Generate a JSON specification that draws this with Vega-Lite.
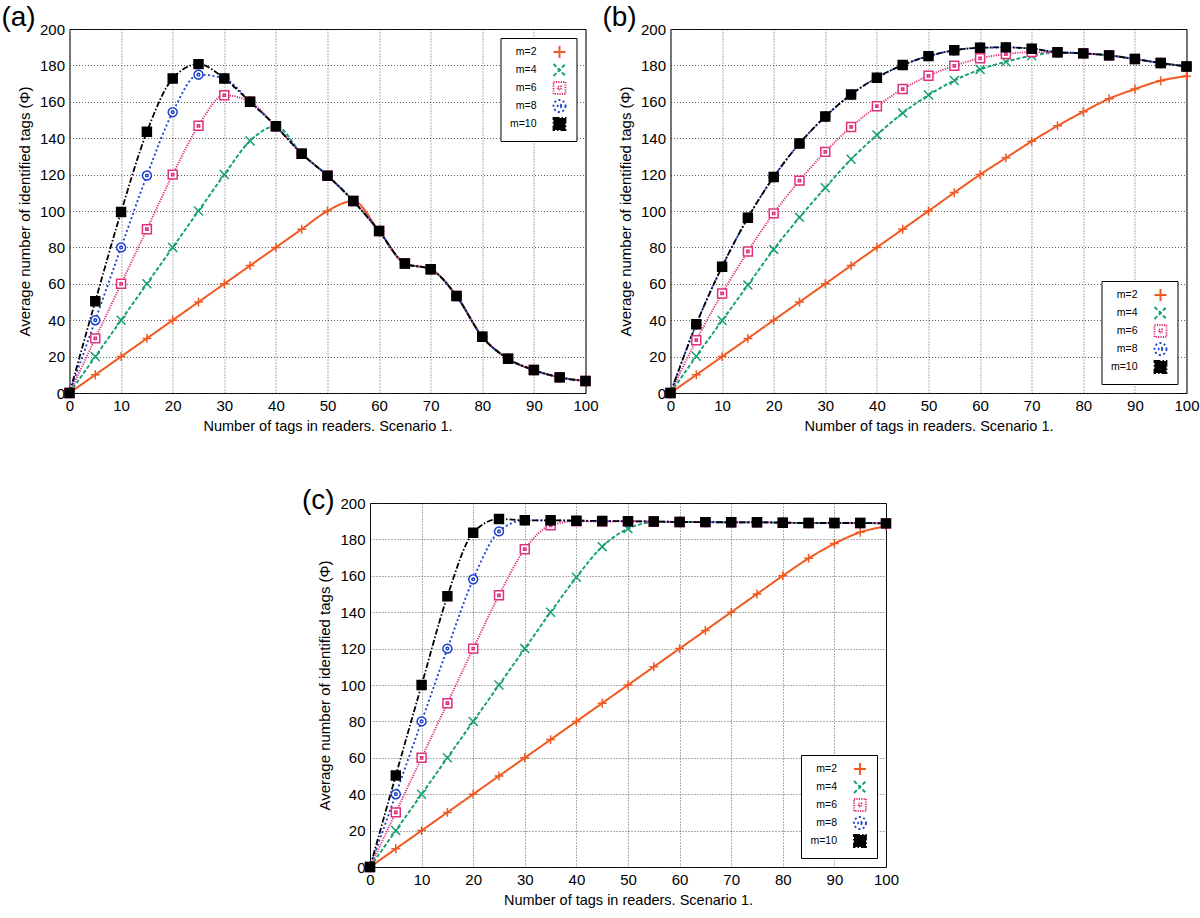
{
"$schema": "https://vega.github.io/schema/vega-lite/v6.json",
"padding": {"left": 0, "top": 3, "right": 0, "bottom": 2},
"center": true,
"spacing": 53,
"config": {
 "font": "Liberation Sans",
 "view": {"stroke": "#000", "strokeWidth": 1},
 "axis": {"grid": true, "gridColor": "#333", "gridDash": [1, 2], "gridOpacity": 1, "gridWidth": 0.8, "domain": false, "ticks": false, "labelFlush": false, "labelFontSize": 15, "labelColor": "#000", "labelPadding": 5, "titleFontSize": 14.5, "titleFontWeight": "normal", "titleColor": "#000"},
 "axisX": {"titlePadding": 6},
 "axisY": {"titlePadding": 7, "titleFontSize": 15},
 "legend": {"title": null, "offset": 9, "fillColor": "#fff", "strokeColor": "#000", "padding": 7, "labelFontSize": 10.5, "labelColor": "#000", "rowPadding": -2, "symbolSize": 144, "symbolStrokeWidth": 1.5, "labelLimit": 100},
 "title": {"fontSize": 28, "fontWeight": "normal", "anchor": "start", "frame": "bounds", "dx": -16, "color": "#000"}
},
"resolve": {"scale": {"color": "independent", "strokeDash": "independent", "strokeWidth": "independent", "shape": "independent", "fill": "independent"}, "legend": {"color": "independent", "strokeDash": "independent", "shape": "independent", "fill": "independent"}},
"datasets": {
 "a": [
  {"m":"m=2","x":0,"y":0},{"m":"m=2","x":5,"y":10},{"m":"m=2","x":10,"y":20},{"m":"m=2","x":15,"y":30},{"m":"m=2","x":20,"y":40},{"m":"m=2","x":25,"y":50},{"m":"m=2","x":30,"y":60},{"m":"m=2","x":35,"y":70},{"m":"m=2","x":40,"y":80},{"m":"m=2","x":45,"y":90},{"m":"m=2","x":50,"y":100},{"m":"m=2","x":55,"y":105.5},{"m":"m=2","x":60,"y":89},{"m":"m=2","x":65,"y":71.2},{"m":"m=2","x":70,"y":68},{"m":"m=2","x":75,"y":53.3},{"m":"m=2","x":80,"y":30.9},{"m":"m=2","x":85,"y":18.8},{"m":"m=2","x":90,"y":12.6},{"m":"m=2","x":95,"y":8.6},{"m":"m=2","x":100,"y":6.6},
  {"m":"m=4","x":0,"y":0},{"m":"m=4","x":5,"y":20},{"m":"m=4","x":10,"y":40},{"m":"m=4","x":15,"y":60},{"m":"m=4","x":20,"y":80},{"m":"m=4","x":25,"y":100},{"m":"m=4","x":30,"y":120},{"m":"m=4","x":35,"y":138.5},{"m":"m=4","x":40,"y":146.6},{"m":"m=4","x":45,"y":131.5},{"m":"m=4","x":50,"y":119.4},{"m":"m=4","x":55,"y":105.5},{"m":"m=4","x":60,"y":89},{"m":"m=4","x":65,"y":71.2},{"m":"m=4","x":70,"y":68},{"m":"m=4","x":75,"y":53.3},{"m":"m=4","x":80,"y":30.9},{"m":"m=4","x":85,"y":18.8},{"m":"m=4","x":90,"y":12.6},{"m":"m=4","x":95,"y":8.6},{"m":"m=4","x":100,"y":6.6},
  {"m":"m=6","x":0,"y":0},{"m":"m=6","x":5,"y":30},{"m":"m=6","x":10,"y":60},{"m":"m=6","x":15,"y":90},{"m":"m=6","x":20,"y":120},{"m":"m=6","x":25,"y":146.8},{"m":"m=6","x":30,"y":163.6},{"m":"m=6","x":35,"y":160},{"m":"m=6","x":40,"y":146.6},{"m":"m=6","x":45,"y":131.5},{"m":"m=6","x":50,"y":119.4},{"m":"m=6","x":55,"y":105.5},{"m":"m=6","x":60,"y":89},{"m":"m=6","x":65,"y":71.2},{"m":"m=6","x":70,"y":68},{"m":"m=6","x":75,"y":53.3},{"m":"m=6","x":80,"y":30.9},{"m":"m=6","x":85,"y":18.8},{"m":"m=6","x":90,"y":12.6},{"m":"m=6","x":95,"y":8.6},{"m":"m=6","x":100,"y":6.6},
  {"m":"m=8","x":0,"y":0},{"m":"m=8","x":5,"y":40},{"m":"m=8","x":10,"y":80},{"m":"m=8","x":15,"y":119.5},{"m":"m=8","x":20,"y":154.3},{"m":"m=8","x":25,"y":174.9},{"m":"m=8","x":30,"y":172.8},{"m":"m=8","x":35,"y":160},{"m":"m=8","x":40,"y":146.6},{"m":"m=8","x":45,"y":131.5},{"m":"m=8","x":50,"y":119.4},{"m":"m=8","x":55,"y":105.5},{"m":"m=8","x":60,"y":89},{"m":"m=8","x":65,"y":71.2},{"m":"m=8","x":70,"y":68},{"m":"m=8","x":75,"y":53.3},{"m":"m=8","x":80,"y":30.9},{"m":"m=8","x":85,"y":18.8},{"m":"m=8","x":90,"y":12.6},{"m":"m=8","x":95,"y":8.6},{"m":"m=8","x":100,"y":6.6},
  {"m":"m=10","x":0,"y":0},{"m":"m=10","x":5,"y":50.4},{"m":"m=10","x":10,"y":99.5},{"m":"m=10","x":15,"y":143.5},{"m":"m=10","x":20,"y":172.8},{"m":"m=10","x":25,"y":180.7},{"m":"m=10","x":30,"y":172.8},{"m":"m=10","x":35,"y":160},{"m":"m=10","x":40,"y":146.6},{"m":"m=10","x":45,"y":131.5},{"m":"m=10","x":50,"y":119.4},{"m":"m=10","x":55,"y":105.5},{"m":"m=10","x":60,"y":89},{"m":"m=10","x":65,"y":71.2},{"m":"m=10","x":70,"y":68},{"m":"m=10","x":75,"y":53.3},{"m":"m=10","x":80,"y":30.9},{"m":"m=10","x":85,"y":18.8},{"m":"m=10","x":90,"y":12.6},{"m":"m=10","x":95,"y":8.6},{"m":"m=10","x":100,"y":6.6}
 ],
 "b": [
  {"m":"m=2","x":0,"y":0},{"m":"m=2","x":5,"y":10},{"m":"m=2","x":10,"y":20},{"m":"m=2","x":15,"y":30},{"m":"m=2","x":20,"y":40},{"m":"m=2","x":25,"y":50},{"m":"m=2","x":30,"y":60},{"m":"m=2","x":35,"y":70},{"m":"m=2","x":40,"y":80},{"m":"m=2","x":45,"y":90},{"m":"m=2","x":50,"y":100},{"m":"m=2","x":55,"y":110.1},{"m":"m=2","x":60,"y":120},{"m":"m=2","x":65,"y":129.2},{"m":"m=2","x":70,"y":138.3},{"m":"m=2","x":75,"y":146.8},{"m":"m=2","x":80,"y":154.5},{"m":"m=2","x":85,"y":161.7},{"m":"m=2","x":90,"y":167},{"m":"m=2","x":95,"y":171.6},{"m":"m=2","x":100,"y":174.1},
  {"m":"m=4","x":0,"y":0},{"m":"m=4","x":5,"y":20.2},{"m":"m=4","x":10,"y":39.8},{"m":"m=4","x":15,"y":59.3},{"m":"m=4","x":20,"y":78.9},{"m":"m=4","x":25,"y":96.5},{"m":"m=4","x":30,"y":112.8},{"m":"m=4","x":35,"y":128.4},{"m":"m=4","x":40,"y":141.8},{"m":"m=4","x":45,"y":153.8},{"m":"m=4","x":50,"y":163.7},{"m":"m=4","x":55,"y":171.7},{"m":"m=4","x":60,"y":177.8},{"m":"m=4","x":65,"y":182},{"m":"m=4","x":70,"y":185.3},{"m":"m=4","x":75,"y":187.2},{"m":"m=4","x":80,"y":186.6},{"m":"m=4","x":85,"y":185.5},{"m":"m=4","x":90,"y":183.5},{"m":"m=4","x":95,"y":181.3},{"m":"m=4","x":100,"y":179.4},
  {"m":"m=6","x":0,"y":0},{"m":"m=6","x":5,"y":29},{"m":"m=6","x":10,"y":54.7},{"m":"m=6","x":15,"y":77.8},{"m":"m=6","x":20,"y":98.7},{"m":"m=6","x":25,"y":116.7},{"m":"m=6","x":30,"y":132.5},{"m":"m=6","x":35,"y":146.2},{"m":"m=6","x":40,"y":157.6},{"m":"m=6","x":45,"y":167},{"m":"m=6","x":50,"y":174.3},{"m":"m=6","x":55,"y":179.8},{"m":"m=6","x":60,"y":183.9},{"m":"m=6","x":65,"y":186.2},{"m":"m=6","x":70,"y":187.3},{"m":"m=6","x":75,"y":187.2},{"m":"m=6","x":80,"y":186.6},{"m":"m=6","x":85,"y":185.5},{"m":"m=6","x":90,"y":183.5},{"m":"m=6","x":95,"y":181.3},{"m":"m=6","x":100,"y":179.4},
  {"m":"m=8","x":0,"y":0},{"m":"m=8","x":5,"y":37.8},{"m":"m=8","x":10,"y":69.4},{"m":"m=8","x":15,"y":96.3},{"m":"m=8","x":20,"y":118.7},{"m":"m=8","x":25,"y":137.1},{"m":"m=8","x":30,"y":151.9},{"m":"m=8","x":35,"y":164},{"m":"m=8","x":40,"y":173.2},{"m":"m=8","x":45,"y":180.2},{"m":"m=8","x":50,"y":185.1},{"m":"m=8","x":55,"y":188.3},{"m":"m=8","x":60,"y":189.7},{"m":"m=8","x":65,"y":189.9},{"m":"m=8","x":70,"y":189.2},{"m":"m=8","x":75,"y":187.2},{"m":"m=8","x":80,"y":186.6},{"m":"m=8","x":85,"y":185.5},{"m":"m=8","x":90,"y":183.5},{"m":"m=8","x":95,"y":181.3},{"m":"m=8","x":100,"y":179.4},
  {"m":"m=10","x":0,"y":0},{"m":"m=10","x":5,"y":37.8},{"m":"m=10","x":10,"y":69.4},{"m":"m=10","x":15,"y":96.3},{"m":"m=10","x":20,"y":118.7},{"m":"m=10","x":25,"y":137.1},{"m":"m=10","x":30,"y":151.9},{"m":"m=10","x":35,"y":164},{"m":"m=10","x":40,"y":173.2},{"m":"m=10","x":45,"y":180.2},{"m":"m=10","x":50,"y":185.1},{"m":"m=10","x":55,"y":188.3},{"m":"m=10","x":60,"y":189.7},{"m":"m=10","x":65,"y":189.9},{"m":"m=10","x":70,"y":189.2},{"m":"m=10","x":75,"y":187.2},{"m":"m=10","x":80,"y":186.6},{"m":"m=10","x":85,"y":185.5},{"m":"m=10","x":90,"y":183.5},{"m":"m=10","x":95,"y":181.3},{"m":"m=10","x":100,"y":179.4}
 ],
 "c": [
  {"m":"m=2","x":0,"y":0},{"m":"m=2","x":5,"y":10},{"m":"m=2","x":10,"y":20},{"m":"m=2","x":15,"y":30},{"m":"m=2","x":20,"y":40},{"m":"m=2","x":25,"y":50},{"m":"m=2","x":30,"y":60},{"m":"m=2","x":35,"y":70},{"m":"m=2","x":40,"y":80},{"m":"m=2","x":45,"y":90},{"m":"m=2","x":50,"y":100},{"m":"m=2","x":55,"y":110},{"m":"m=2","x":60,"y":120},{"m":"m=2","x":65,"y":130},{"m":"m=2","x":70,"y":140},{"m":"m=2","x":75,"y":150},{"m":"m=2","x":80,"y":160},{"m":"m=2","x":85,"y":169.6},{"m":"m=2","x":90,"y":177.7},{"m":"m=2","x":95,"y":183.9},{"m":"m=2","x":100,"y":187.2},
  {"m":"m=4","x":0,"y":0},{"m":"m=4","x":5,"y":20},{"m":"m=4","x":10,"y":40},{"m":"m=4","x":15,"y":60},{"m":"m=4","x":20,"y":80},{"m":"m=4","x":25,"y":100},{"m":"m=4","x":30,"y":120},{"m":"m=4","x":35,"y":140},{"m":"m=4","x":40,"y":159.2},{"m":"m=4","x":45,"y":176},{"m":"m=4","x":50,"y":185.9},{"m":"m=4","x":55,"y":189.4},{"m":"m=4","x":60,"y":189.6},{"m":"m=4","x":65,"y":189.5},{"m":"m=4","x":70,"y":189.4},{"m":"m=4","x":75,"y":189.4},{"m":"m=4","x":80,"y":189.2},{"m":"m=4","x":85,"y":189},{"m":"m=4","x":90,"y":189},{"m":"m=4","x":95,"y":189},{"m":"m=4","x":100,"y":188.8},
  {"m":"m=6","x":0,"y":0},{"m":"m=6","x":5,"y":30},{"m":"m=6","x":10,"y":60},{"m":"m=6","x":15,"y":90},{"m":"m=6","x":20,"y":120},{"m":"m=6","x":25,"y":149.3},{"m":"m=6","x":30,"y":174.6},{"m":"m=6","x":35,"y":187.7},{"m":"m=6","x":40,"y":190},{"m":"m=6","x":45,"y":189.8},{"m":"m=6","x":50,"y":190},{"m":"m=6","x":55,"y":189.8},{"m":"m=6","x":60,"y":189.6},{"m":"m=6","x":65,"y":189.5},{"m":"m=6","x":70,"y":189.4},{"m":"m=6","x":75,"y":189.4},{"m":"m=6","x":80,"y":189.2},{"m":"m=6","x":85,"y":189},{"m":"m=6","x":90,"y":189},{"m":"m=6","x":95,"y":189},{"m":"m=6","x":100,"y":188.8},
  {"m":"m=8","x":0,"y":0},{"m":"m=8","x":5,"y":40},{"m":"m=8","x":10,"y":80},{"m":"m=8","x":15,"y":120},{"m":"m=8","x":20,"y":158.1},{"m":"m=8","x":25,"y":184.4},{"m":"m=8","x":30,"y":190.5},{"m":"m=8","x":35,"y":190.4},{"m":"m=8","x":40,"y":190.3},{"m":"m=8","x":45,"y":190.1},{"m":"m=8","x":50,"y":190},{"m":"m=8","x":55,"y":189.8},{"m":"m=8","x":60,"y":189.6},{"m":"m=8","x":65,"y":189.5},{"m":"m=8","x":70,"y":189.4},{"m":"m=8","x":75,"y":189.4},{"m":"m=8","x":80,"y":189.2},{"m":"m=8","x":85,"y":189},{"m":"m=8","x":90,"y":189},{"m":"m=8","x":95,"y":189},{"m":"m=8","x":100,"y":188.8},
  {"m":"m=10","x":0,"y":0},{"m":"m=10","x":5,"y":50.3},{"m":"m=10","x":10,"y":100},{"m":"m=10","x":15,"y":148.8},{"m":"m=10","x":20,"y":183.7},{"m":"m=10","x":25,"y":191.2},{"m":"m=10","x":30,"y":190.5},{"m":"m=10","x":35,"y":190.5},{"m":"m=10","x":40,"y":190.3},{"m":"m=10","x":45,"y":190.1},{"m":"m=10","x":50,"y":190},{"m":"m=10","x":55,"y":189.8},{"m":"m=10","x":60,"y":189.6},{"m":"m=10","x":65,"y":189.5},{"m":"m=10","x":70,"y":189.4},{"m":"m=10","x":75,"y":189.4},{"m":"m=10","x":80,"y":189.2},{"m":"m=10","x":85,"y":189},{"m":"m=10","x":90,"y":189},{"m":"m=10","x":95,"y":189},{"m":"m=10","x":100,"y":188.8}
 ]
},
"vconcat": [
 {
  "hconcat": [
   {
    "title": {"text": "(a)", "offset": -10},
    "width": 516, "height": 364,
    "data": {"name": "a"},
    "encoding": {
     "x": {"field": "x", "type": "quantitative", "scale": {"domain": [0, 100]}, "axis": {"values": [0,10,20,30,40,50,60,70,80,90,100], "title": "Number of tags in readers. Scenario 1."}},
     "y": {"field": "y", "type": "quantitative", "scale": {"domain": [0, 200]}, "axis": {"values": [0,20,40,60,80,100,120,140,160,180,200], "title": "Average number of identified tags (Φ)"}},
     "color": {"field": "m", "type": "nominal", "scale": {"domain": ["m=2","m=4","m=6","m=8","m=10"], "range": ["#f05a22","#17a075","#e0307c","#1d3fd0","#000000"]},
      "legend": {"orient": "top-right", "encode": {"symbols": {"update": {"x": {"value": 52}, "size": {"value": 144}, "strokeWidth": {"value": 1.5}}}, "labels": {"update": {"x": {"value": 29}, "align": {"value": "right"}}}}}}
    },
    "layer": [
     {"mark": {"type": "line", "interpolate": "monotone"},
      "encoding": {
       "strokeDash": {"field": "m", "type": "nominal", "scale": {"domain": ["m=2","m=4","m=6","m=8","m=10"], "range": [[1,0],[4,2],[1.2,1.2],[2,2.5],[6,2,1.5,2]]},
        "legend": {"orient": "top-right", "encode": {"symbols": {"update": {"x": {"value": 52}, "size": {"value": 144}, "strokeWidth": {"value": 1.5}}}, "labels": {"update": {"x": {"value": 29}, "align": {"value": "right"}}}}}},
       "strokeWidth": {"field": "m", "type": "ordinal", "scale": {"domain": ["m=2","m=4","m=6","m=8","m=10"], "range": [2,1.8,1.2,1.8,1.5]}, "legend": null}}},
     {"mark": {"type": "point", "filled": false, "size": 80, "strokeWidth": 1.5, "opacity": 1},
      "encoding": {
       "shape": {"field": "m", "type": "nominal", "scale": {"domain": ["m=2","m=4","m=6","m=8","m=10"], "range": ["M-1,0H1M0,-1V1","M-1,-1L1,1M-1,1L1,-1","M-1,-1H1V1H-1ZM-0.25,-0.25H0.25V0.25H-0.25Z","M1,0A1,1,0,1,1,-1,0A1,1,0,1,1,1,0ZM0.3,0A0.3,0.3,0,1,1,-0.3,0A0.3,0.3,0,1,1,0.3,0Z","square"]}, "legend": null},
       "fill": {"field": "m", "type": "nominal", "scale": {"domain": ["m=2","m=4","m=6","m=8","m=10"], "range": ["transparent","transparent","#ffffff","#ffffff","#000000"]},
        "legend": {"orient": "top-right", "encode": {"symbols": {"update": {"x": {"value": 52}, "size": {"value": 144}, "strokeWidth": {"value": 1.5}}}, "labels": {"update": {"x": {"value": 29}, "align": {"value": "right"}}}}}}}}
    ]
   },
   {
    "title": {"text": "(b)", "offset": -10},
    "width": 516, "height": 364,
    "data": {"name": "b"},
    "encoding": {
     "x": {"field": "x", "type": "quantitative", "scale": {"domain": [0, 100]}, "axis": {"values": [0,10,20,30,40,50,60,70,80,90,100], "title": "Number of tags in readers. Scenario 1."}},
     "y": {"field": "y", "type": "quantitative", "scale": {"domain": [0, 200]}, "axis": {"values": [0,20,40,60,80,100,120,140,160,180,200], "title": "Average number of identified tags (Φ)"}},
     "color": {"field": "m", "type": "nominal", "scale": {"domain": ["m=2","m=4","m=6","m=8","m=10"], "range": ["#f05a22","#17a075","#e0307c","#1d3fd0","#000000"]},
      "legend": {"orient": "bottom-right", "encode": {"symbols": {"update": {"x": {"value": 52}, "size": {"value": 144}, "strokeWidth": {"value": 1.5}}}, "labels": {"update": {"x": {"value": 29}, "align": {"value": "right"}}}}}}
    },
    "layer": [
     {"mark": {"type": "line", "interpolate": "monotone"},
      "encoding": {
       "strokeDash": {"field": "m", "type": "nominal", "scale": {"domain": ["m=2","m=4","m=6","m=8","m=10"], "range": [[1,0],[4,2],[1.2,1.2],[2,2.5],[6,2,1.5,2]]},
        "legend": {"orient": "bottom-right", "encode": {"symbols": {"update": {"x": {"value": 52}, "size": {"value": 144}, "strokeWidth": {"value": 1.5}}}, "labels": {"update": {"x": {"value": 29}, "align": {"value": "right"}}}}}},
       "strokeWidth": {"field": "m", "type": "ordinal", "scale": {"domain": ["m=2","m=4","m=6","m=8","m=10"], "range": [2,1.8,1.2,1.8,1.5]}, "legend": null}}},
     {"mark": {"type": "point", "filled": false, "size": 80, "strokeWidth": 1.5, "opacity": 1},
      "encoding": {
       "shape": {"field": "m", "type": "nominal", "scale": {"domain": ["m=2","m=4","m=6","m=8","m=10"], "range": ["M-1,0H1M0,-1V1","M-1,-1L1,1M-1,1L1,-1","M-1,-1H1V1H-1ZM-0.25,-0.25H0.25V0.25H-0.25Z","M1,0A1,1,0,1,1,-1,0A1,1,0,1,1,1,0ZM0.3,0A0.3,0.3,0,1,1,-0.3,0A0.3,0.3,0,1,1,0.3,0Z","square"]}, "legend": null},
       "fill": {"field": "m", "type": "nominal", "scale": {"domain": ["m=2","m=4","m=6","m=8","m=10"], "range": ["transparent","transparent","#ffffff","#ffffff","#000000"]},
        "legend": {"orient": "bottom-right", "encode": {"symbols": {"update": {"x": {"value": 52}, "size": {"value": 144}, "strokeWidth": {"value": 1.5}}}, "labels": {"update": {"x": {"value": 29}, "align": {"value": "right"}}}}}}}}
    ]
   }
  ],
  "spacing": 2,
  "resolve": {"scale": {"color": "independent", "strokeDash": "independent", "strokeWidth": "independent", "shape": "independent", "fill": "independent"}, "legend": {"color": "independent", "strokeDash": "independent", "shape": "independent", "fill": "independent"}}
 },
 {
  "title": {"text": "(c)", "offset": -19},
  "width": 516, "height": 364,
  "data": {"name": "c"},
  "encoding": {
   "x": {"field": "x", "type": "quantitative", "scale": {"domain": [0, 100]}, "axis": {"values": [0,10,20,30,40,50,60,70,80,90,100], "title": "Number of tags in readers. Scenario 1."}},
   "y": {"field": "y", "type": "quantitative", "scale": {"domain": [0, 200]}, "axis": {"values": [0,20,40,60,80,100,120,140,160,180,200], "title": "Average number of identified tags (Φ)"}},
   "color": {"field": "m", "type": "nominal", "scale": {"domain": ["m=2","m=4","m=6","m=8","m=10"], "range": ["#f05a22","#17a075","#e0307c","#1d3fd0","#000000"]},
    "legend": {"orient": "bottom-right", "encode": {"symbols": {"update": {"x": {"value": 52}, "size": {"value": 144}, "strokeWidth": {"value": 1.5}}}, "labels": {"update": {"x": {"value": 29}, "align": {"value": "right"}}}}}}
  },
  "layer": [
   {"mark": {"type": "line", "interpolate": "monotone"},
    "encoding": {
     "strokeDash": {"field": "m", "type": "nominal", "scale": {"domain": ["m=2","m=4","m=6","m=8","m=10"], "range": [[1,0],[4,2],[1.2,1.2],[2,2.5],[6,2,1.5,2]]},
      "legend": {"orient": "bottom-right", "encode": {"symbols": {"update": {"x": {"value": 52}, "size": {"value": 144}, "strokeWidth": {"value": 1.5}}}, "labels": {"update": {"x": {"value": 29}, "align": {"value": "right"}}}}}},
     "strokeWidth": {"field": "m", "type": "ordinal", "scale": {"domain": ["m=2","m=4","m=6","m=8","m=10"], "range": [2,1.8,1.2,1.8,1.5]}, "legend": null}}},
   {"mark": {"type": "point", "filled": false, "size": 80, "strokeWidth": 1.5, "opacity": 1},
    "encoding": {
     "shape": {"field": "m", "type": "nominal", "scale": {"domain": ["m=2","m=4","m=6","m=8","m=10"], "range": ["M-1,0H1M0,-1V1","M-1,-1L1,1M-1,1L1,-1","M-1,-1H1V1H-1ZM-0.25,-0.25H0.25V0.25H-0.25Z","M1,0A1,1,0,1,1,-1,0A1,1,0,1,1,1,0ZM0.3,0A0.3,0.3,0,1,1,-0.3,0A0.3,0.3,0,1,1,0.3,0Z","square"]}, "legend": null},
     "fill": {"field": "m", "type": "nominal", "scale": {"domain": ["m=2","m=4","m=6","m=8","m=10"], "range": ["transparent","transparent","#ffffff","#ffffff","#000000"]},
      "legend": {"orient": "bottom-right", "encode": {"symbols": {"update": {"x": {"value": 52}, "size": {"value": 144}, "strokeWidth": {"value": 1.5}}}, "labels": {"update": {"x": {"value": 29}, "align": {"value": "right"}}}}}}}}
  ]
 }
]
}
